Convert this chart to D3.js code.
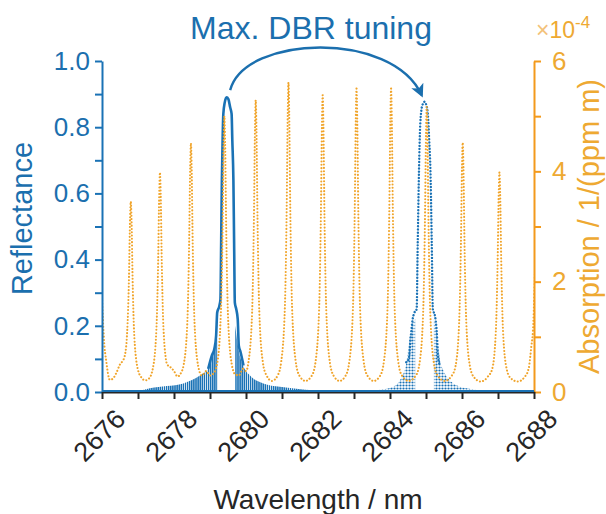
<!DOCTYPE html>
<html>
<head>
<meta charset="utf-8">
<script src="https://cdn.jsdelivr.net/npm/d3@7"></script>
<style>
  html, body { margin: 0; padding: 0; background: #fff; }
  svg { display: block; font-family: "Liberation Sans", Arial, sans-serif; }
</style>
</head>
<body>
<svg id="chart" width="606" height="514"></svg>
<script>
// ---------------- DATA ----------------
const xTickValues = [2676, 2677, 2678, 2679, 2680, 2681, 2682, 2683, 2684, 2685, 2686, 2687, 2688];
const leftTickValues = [0, 0.1, 0.2, 0.3, 0.4, 0.5, 0.6, 0.7, 0.8, 0.9, 1.0];
const rightTickValues = [0, 1, 2, 3, 4, 5, 6];

const titleText = "Max. DBR tuning";
const xLabel = "Wavelength / nm";
const yLeftLabel = "Reflectance";
const yRightLabel = "Absorption / 1/(ppm m)";
const rightExponent = "-4";

// absorption spectrum, [wavelength nm, absorption x1e-4 1/(ppm m)]
const absorption = [
  [2675.90, 2.90], [2675.93, 3.00], [2675.96, 2.75], [2676.00, 1.75], [2676.05, 1.00], [2676.12, 0.55],
  [2676.22, 0.22], [2676.30, 0.24], [2676.40, 0.35], [2676.50, 0.50], [2676.57, 0.56], [2676.63, 0.65],
  [2676.70, 1.10], [2676.75, 2.10], [2676.78, 3.15], [2676.80, 3.45], [2676.82, 3.15], [2676.85, 2.05],
  [2676.90, 0.98], [2677.00, 0.40], [2677.10, 0.26], [2677.20, 0.21], [2677.30, 0.24], [2677.41, 0.42],
  [2677.51, 1.12], [2677.56, 2.37], [2677.59, 3.60], [2677.61, 3.98], [2677.63, 3.60], [2677.66, 2.37],
  [2677.71, 1.12], [2677.81, 0.50], [2677.90, 0.45], [2678.00, 0.38], [2678.10, 0.28], [2678.17, 0.32],
  [2678.27, 0.50], [2678.37, 1.26], [2678.42, 2.68], [2678.45, 4.07], [2678.47, 4.51], [2678.49, 4.07],
  [2678.52, 2.68], [2678.57, 1.26], [2678.67, 0.48], [2678.77, 0.30], [2678.90, 0.38], [2679.00, 0.30],
  [2679.10, 0.34], [2679.20, 0.52], [2679.30, 1.40], [2679.35, 2.97], [2679.38, 4.52], [2679.40, 5.00],
  [2679.42, 4.52], [2679.45, 2.97], [2679.50, 1.38], [2679.60, 0.52], [2679.70, 0.32], [2679.80, 0.30],
  [2679.92, 0.42], [2680.00, 0.38], [2680.07, 0.55], [2680.17, 1.45], [2680.22, 3.14], [2680.25, 4.78],
  [2680.27, 5.29], [2680.29, 4.78], [2680.32, 3.14], [2680.37, 1.45], [2680.47, 0.53], [2680.57, 0.30],
  [2680.72, 0.20], [2680.88, 0.30], [2680.98, 0.56], [2681.08, 1.54], [2681.13, 3.32], [2681.16, 5.06],
  [2681.18, 5.61], [2681.20, 5.06], [2681.23, 3.32], [2681.28, 1.54], [2681.38, 0.56], [2681.48, 0.30],
  [2681.65, 0.20], [2681.83, 0.30], [2681.93, 0.54], [2682.03, 1.48], [2682.08, 3.18], [2682.11, 4.85],
  [2682.13, 5.38], [2682.15, 4.85], [2682.18, 3.18], [2682.23, 1.48], [2682.33, 0.54], [2682.43, 0.30],
  [2682.60, 0.20], [2682.77, 0.30], [2682.87, 0.55], [2682.97, 1.50], [2683.02, 3.25], [2683.05, 4.95],
  [2683.07, 5.50], [2683.09, 4.95], [2683.12, 3.25], [2683.17, 1.50], [2683.27, 0.55], [2683.37, 0.30],
  [2683.55, 0.20], [2683.73, 0.30], [2683.83, 0.55], [2683.93, 1.50], [2683.98, 3.25], [2684.01, 4.95],
  [2684.03, 5.50], [2684.05, 4.95], [2684.08, 3.25], [2684.13, 1.50], [2684.23, 0.55], [2684.33, 0.30],
  [2684.52, 0.20], [2684.72, 0.30], [2684.82, 0.52], [2684.92, 1.42], [2684.97, 3.06], [2685.00, 4.66],
  [2685.02, 5.17], [2685.04, 4.66], [2685.07, 3.06], [2685.12, 1.42], [2685.22, 0.52], [2685.32, 0.30],
  [2685.52, 0.20], [2685.72, 0.30], [2685.82, 0.47], [2685.92, 1.25], [2685.97, 2.68], [2686.00, 4.08],
  [2686.02, 4.52], [2686.04, 4.08], [2686.07, 2.68], [2686.12, 1.25], [2686.22, 0.47], [2686.32, 0.28],
  [2686.52, 0.19], [2686.72, 0.28], [2686.84, 0.42], [2686.94, 1.10], [2686.99, 2.37], [2687.02, 3.60],
  [2687.04, 3.98], [2687.06, 3.60], [2687.09, 2.37], [2687.14, 1.10], [2687.24, 0.42], [2687.34, 0.26],
  [2687.55, 0.19], [2687.75, 0.28], [2687.85, 0.42], [2687.93, 0.85], [2687.97, 1.10], [2688.02, 2.00],
  [2688.06, 2.90], [2688.08, 3.10]
];

// DBR reflectance, initial position (solid): main lobe + first side lobes
const reflSolidLobe = [
  [2678.95, 0.07], [2679.05, 0.11], [2679.12, 0.13], [2679.17, 0.17], [2679.20, 0.24], [2679.26, 0.26],
  [2679.29, 0.28], [2679.31, 0.45], [2679.33, 0.64], [2679.35, 0.76], [2679.37, 0.84], [2679.41, 0.875],
  [2679.46, 0.89], [2679.51, 0.885], [2679.56, 0.86], [2679.60, 0.84], [2679.62, 0.76], [2679.65, 0.64],
  [2679.67, 0.45], [2679.69, 0.27], [2679.73, 0.25], [2679.77, 0.22], [2679.80, 0.14], [2679.85, 0.12],
  [2679.93, 0.08]
];
// envelope of the fast side-lobe fringes (solid)
const reflSolidFringe = [
  [2677.00, 0.002], [2677.33, 0.011], [2677.80, 0.018], [2678.26, 0.026], [2678.50, 0.036], [2678.72, 0.050],
  [2678.95, 0.070], [2679.09, 0.120], [2679.20, 0.160],
  [2679.70, 0.200], [2679.79, 0.130], [2679.93, 0.077], [2680.11, 0.050], [2680.48, 0.026], [2680.94, 0.016],
  [2681.40, 0.010], [2681.90, 0.005], [2682.30, 0.002]
];

// DBR reflectance, maximum tuning (dotted)
const reflDottedLobe = [
  [2684.45, 0.09], [2684.52, 0.10], [2684.58, 0.17], [2684.63, 0.22], [2684.68, 0.24], [2684.74, 0.25],
  [2684.77, 0.45], [2684.80, 0.64], [2684.83, 0.78], [2684.87, 0.85], [2684.92, 0.872], [2684.96, 0.877],
  [2685.00, 0.87], [2685.05, 0.84], [2685.09, 0.76], [2685.13, 0.64], [2685.16, 0.45], [2685.19, 0.25],
  [2685.25, 0.23], [2685.30, 0.18], [2685.34, 0.10], [2685.40, 0.08]
];
const reflDottedFringe = [
  [2683.40, 0.002], [2683.80, 0.008], [2684.09, 0.016], [2684.28, 0.036], [2684.46, 0.090], [2684.60, 0.200],
  [2684.70, 0.220],
  [2685.22, 0.220], [2685.30, 0.180], [2685.40, 0.090], [2685.48, 0.066], [2685.71, 0.030], [2685.94, 0.016],
  [2686.20, 0.010], [2686.60, 0.003]
];

// annotation arrow (data coordinates: wavelength, reflectance)
const arrowPath = [[2679.56, 0.912], [2679.97, 1.079], [2684.06, 1.094], [2684.88, 0.897]];

// ---------------- DRAWING ----------------
const blue = "#1a72b5";
const blueText = "#1b6fae";
const orange = "#F0A42A";
const orangeText = "#EEA932";
const orangeAxis = "#F39A1C";
const dark = "#262626";
const FONT = "Liberation Sans, Arial, sans-serif";

const svg = d3.select("#chart");
const L = 102, R = 534, T = 61, B = 392;

const x = d3.scaleLinear().domain([2676, 2688]).range([L, R]);
const yL = d3.scaleLinear().domain([0, 1]).range([B, T]);
const yR = d3.scaleLinear().domain([0, 6]).range([B, T]);

const defs = svg.append("defs");
defs.append("clipPath").attr("id", "clip")
  .append("rect").attr("x", L).attr("y", 0).attr("width", R - L).attr("height", B + 2);
const stripes = defs.append("pattern").attr("id", "stripes")
  .attr("patternUnits", "userSpaceOnUse").attr("width", 2.1).attr("height", 6);
stripes.append("rect").attr("width", 1.5).attr("height", 6).attr("fill", blue);
const dots = defs.append("pattern").attr("id", "dots")
  .attr("patternUnits", "userSpaceOnUse").attr("width", 3).attr("height", 3);
dots.append("circle").attr("cx", 1.5).attr("cy", 1.5).attr("r", 1.1).attr("fill", blue);

const plot = svg.append("g").attr("clip-path", "url(#clip)");

// fringe areas
const fringeArea = d3.area().x(d => x(d[0])).y0(yL(0)).y1(d => yL(d[1])).curve(d3.curveMonotoneX);
plot.append("path").datum(reflSolidFringe.filter(d => d[0] < 2679.5))
  .attr("d", fringeArea).attr("fill", "url(#stripes)");
plot.append("path").datum(reflSolidFringe.filter(d => d[0] > 2679.5))
  .attr("d", fringeArea).attr("fill", "url(#stripes)");
plot.append("path").datum(reflDottedFringe.filter(d => d[0] < 2684.96))
  .attr("d", fringeArea).attr("fill", "url(#dots)");
plot.append("path").datum(reflDottedFringe.filter(d => d[0] > 2684.96))
  .attr("d", fringeArea).attr("fill", "url(#dots)");

const lineL = d3.line().x(d => x(d[0])).y(d => yL(d[1])).curve(d3.curveMonotoneX);
const lineR = d3.line().x(d => x(d[0])).y(d => yR(d[1])).curve(d3.curveMonotoneX);

plot.append("path").datum(reflSolidLobe).attr("d", lineL)
  .attr("fill", "none").attr("stroke", blue).attr("stroke-width", 2.6);
plot.append("path").datum(reflDottedLobe).attr("d", lineL)
  .attr("fill", "none").attr("stroke", blue).attr("stroke-width", 2.4)
  .attr("stroke-dasharray", "0.01,3.2").attr("stroke-linecap", "round");

// absorption dotted
plot.append("path").datum(absorption).attr("d", lineR)
  .attr("fill", "none").attr("stroke", orange).attr("stroke-width", 2.1)
  .attr("stroke-dasharray", "0.01,3.3").attr("stroke-linecap", "round");

// ---------------- AXES ----------------
const fmt1 = d => (Math.round(d * 10) % 2 === 0 ? d.toFixed(1) : "");
const axL = svg.append("g").attr("transform", `translate(${L},0)`)
  .call(d3.axisLeft(yL).tickValues(leftTickValues).tickFormat(fmt1).tickSize(7).tickSizeOuter(0).tickPadding(5));
axL.select(".domain").attr("stroke", blue).attr("stroke-width", 2);
axL.selectAll(".tick line").attr("stroke", blue).attr("stroke-width", 2);
axL.selectAll(".tick text").attr("fill", blueText).attr("font-size", 26).attr("font-family", FONT);

const axR = svg.append("g").attr("transform", `translate(${R},0)`)
  .call(d3.axisRight(yR).tickValues(rightTickValues).tickFormat(d => (d % 2 === 0 ? d : "")).tickSize(7).tickSizeOuter(0).tickPadding(11));
axR.select(".domain").attr("stroke", orangeAxis).attr("stroke-width", 2);
axR.selectAll(".tick line").attr("stroke", orangeAxis).attr("stroke-width", 2);
axR.selectAll(".tick text").attr("fill", orangeText).attr("font-size", 26).attr("font-family", FONT);

const axB = svg.append("g").attr("transform", `translate(0,${B})`)
  .call(d3.axisBottom(x).tickValues(xTickValues).tickFormat(d => (d % 2 === 0 ? d : "")).tickSize(7).tickSizeOuter(0));
axB.select(".domain").attr("stroke", dark).attr("stroke-width", 2);
axB.selectAll(".tick line").attr("stroke", dark).attr("stroke-width", 2);
axB.selectAll(".tick text")
  .attr("fill", dark).attr("font-size", 27).attr("font-family", FONT)
  .attr("text-anchor", "end").attr("x", 0).attr("y", 0).attr("dy", "0.35em")
  .attr("transform", "translate(18,22) rotate(-45)");
// blue reflectance baseline (curves sit at zero elsewhere), on top of the black axis line
svg.append("g").attr("clip-path", "url(#clip)").append("line")
  .attr("x1", x(2676)).attr("x2", x(2688))
  .attr("y1", yL(0) - 1).attr("y2", yL(0) - 1)
  .attr("stroke", blue).attr("stroke-width", 1.8);

// ---------------- LABELS ----------------
svg.append("text").attr("x", (L + R) / 2).attr("y", 509)
  .attr("text-anchor", "middle").attr("font-size", 28).attr("fill", dark).text(xLabel);
svg.append("text").attr("transform", `translate(32,${(T + B) / 2 - 8}) rotate(-90)`)
  .attr("text-anchor", "middle").attr("font-size", 29).attr("fill", blueText).text(yLeftLabel);
svg.append("text").attr("transform", `translate(599,${(T + B) / 2}) rotate(-90)`)
  .attr("text-anchor", "middle").attr("font-size", 29).attr("fill", orangeText).text(yRightLabel);

const expo = svg.append("text").attr("x", 536).attr("y", 38).attr("font-size", 23).attr("fill", orangeText);
expo.append("tspan").attr("fill", "#F3C27A").text("\u00d7");
expo.append("tspan").text("10");
expo.append("tspan").attr("dy", -10).attr("font-size", 17).text(rightExponent);

svg.append("text").attr("x", 311).attr("y", 39).attr("text-anchor", "middle")
  .attr("font-size", 32).attr("fill", blueText).text(titleText);

// arrow
defs.append("marker").attr("id", "arrowhead").attr("viewBox", "0 0 10 10")
  .attr("refX", 8).attr("refY", 5).attr("markerWidth", 5.5).attr("markerHeight", 5.5)
  .attr("orient", "auto").attr("markerUnits", "strokeWidth")
  .append("path").attr("d", "M0,0 L10,5 L0,10 L2.5,5 Z").attr("fill", blueText);
const ap = arrowPath.map(d => [x(d[0]), yL(d[1])]);
svg.append("path")
  .attr("d", `M${ap[0][0]},${ap[0][1]} C${ap[1][0]},${ap[1][1]} ${ap[2][0]},${ap[2][1]} ${ap[3][0]},${ap[3][1]}`)
  .attr("fill", "none").attr("stroke", blueText).attr("stroke-width", 2.4)
  .attr("marker-end", "url(#arrowhead)");
</script>
</body>
</html>
